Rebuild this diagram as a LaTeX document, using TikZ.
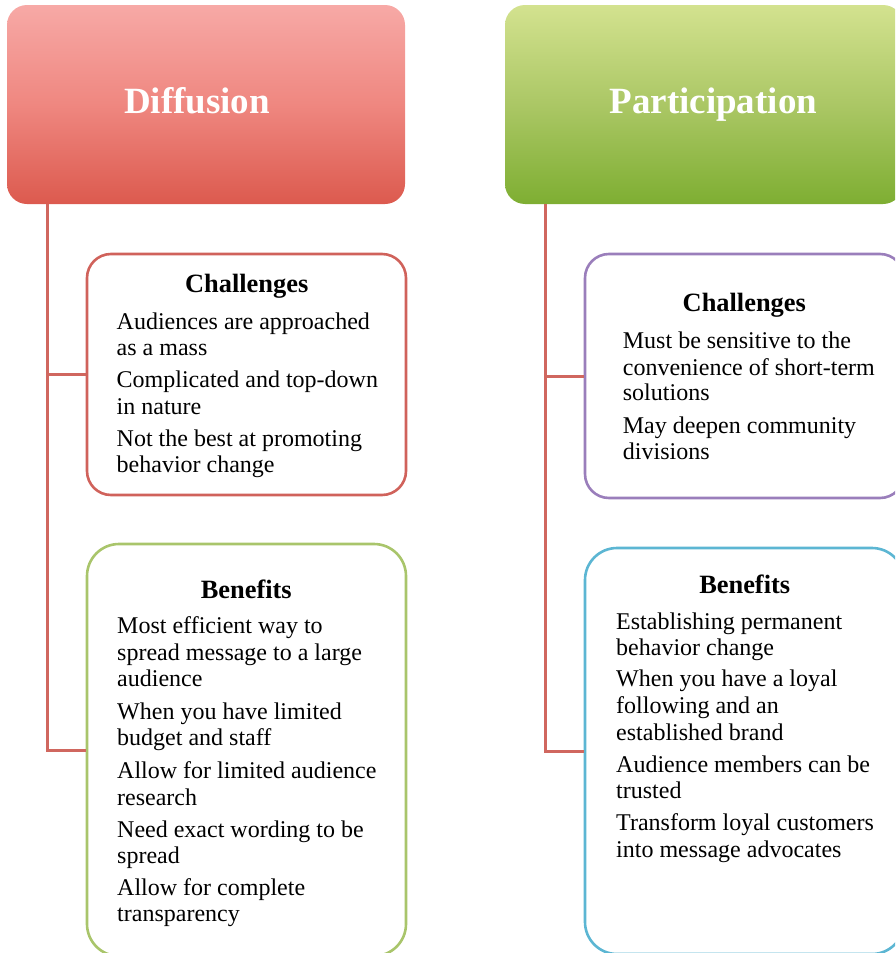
\documentclass[tikz,border=0pt]{standalone}
\usepackage{fontspec}
\setmainfont{Liberation Serif}
\definecolor{dtop}{HTML}{F7A9A6}
\definecolor{dmid}{HTML}{EF8780}
\definecolor{dbot}{HTML}{DC5A4E}
\definecolor{ptop}{HTML}{D3E28F}
\definecolor{pmid}{HTML}{ABC765}
\definecolor{pbot}{HTML}{7EAE32}
\definecolor{conn}{HTML}{D0675F}
\definecolor{redb}{HTML}{D0625B}
\definecolor{greenb}{HTML}{A9C56B}
\definecolor{purpb}{HTML}{9A7EBB}
\definecolor{blueb}{HTML}{5CB6D3}
\begin{document}
\begin{tikzpicture}[x=1pt,y=-1pt,
  header/.style={rounded corners=20pt, minimum width=398pt, minimum height=199pt, inner sep=0pt, draw=none},
  title/.style={text=white, font=\fontsize{37}{40}\selectfont\bfseries, anchor=base, inner sep=0pt},
  card/.style={draw=#1, line width=2.6pt, fill=white, inner sep=0pt, minimum width=319pt},
  head/.style={font=\fontsize{26.4}{30}\selectfont\bfseries, anchor=base, inner sep=0pt},
  body/.style={font=\fontsize{24}{26.5}\selectfont, anchor=base west, inner sep=0pt},
  link/.style={draw=conn, line width=3pt}]
\useasboundingbox (0,0) rectangle (895,953);
\clip (0,0) rectangle (895,953);

% headers
\node[header, top color=dtop, bottom color=dbot, middle color=dmid] (dhd) at (206,104.5) {};
\node[header, top color=ptop, bottom color=pbot, middle color=pmid] (phd) at (704,104.5) {};
\node[title] (dtitle) at (197,113.3) {Diffusion};
\node[title] (ptitle) at (713.3,113.3) {Participation};

% connectors
\coordinate (dtrunk) at (47,204);
\coordinate (ptrunk) at (545,204);

% cards
\node[card=redb, minimum height=241pt, rounded corners=24pt] (dch) at (246.5,374.5) {};
\node[card=greenb, minimum height=412pt, rounded corners=32pt] (dbn) at (246.5,750) {};
\node[card=purpb, minimum height=244pt, rounded corners=24pt] (pch) at (744.5,376) {};
\node[card=blueb, minimum height=406pt, rounded corners=32pt] (pbn) at (744.5,751) {};

\draw[link] (dtrunk) |- (dch.west);
\draw[link] (dtrunk) |- (dbn.west);
\draw[link] (ptrunk) |- (pch.west);
\draw[link] (ptrunk) |- (pbn.west);

% headings
\node[head] (dchh) at (246.7,292.5) {Challenges};
\node[head] (dbnh) at (246.3,598.5) {Benefits};
\node[head] (pchh) at (744.3,311) {Challenges};
\node[head] (pbnh) at (744.7,593.3) {Benefits};

% body text
\foreach \t/\y [count=\i] in {Audiences are approached/329, as a mass/355.3, Complicated and top-down/387.5, in nature/414, Not the best at promoting/446, behavior change/472.5}
  \node[body] (dcl\i) at (116.5,\y) {\t};
\foreach \t/\y [count=\i] in {Most efficient way to/633.5, spread message to a large/660, audience/686.7, When you have limited/719.5, budget and staff/745.5, Allow for limited audience/778.5, research/805, Need exact wording to be/837, spread/863.5, Allow for complete/895, transparency/921.7}
  \node[body] (dbl\i) at (117,\y) {\t};
\foreach \t/\y [count=\i] in {Must be sensitive to the/348.3, convenience of short-term/375, solutions/400.5, May deepen community/433.3, divisions/459.5}
  \node[body] (pcl\i) at (622.7,\y) {\t};
\foreach \t/\y [count=\i] in {Establishing permanent/629, behavior change/655.5, When you have a loyal/686.7, following and an/713.3, established brand/740, Audience members can be/772.7, trusted/798.8, Transform loyal customers/830.7, into message advocates/857}
  \node[body] (pbl\i) at (616,\y) {\t};
\end{tikzpicture}
\end{document}
